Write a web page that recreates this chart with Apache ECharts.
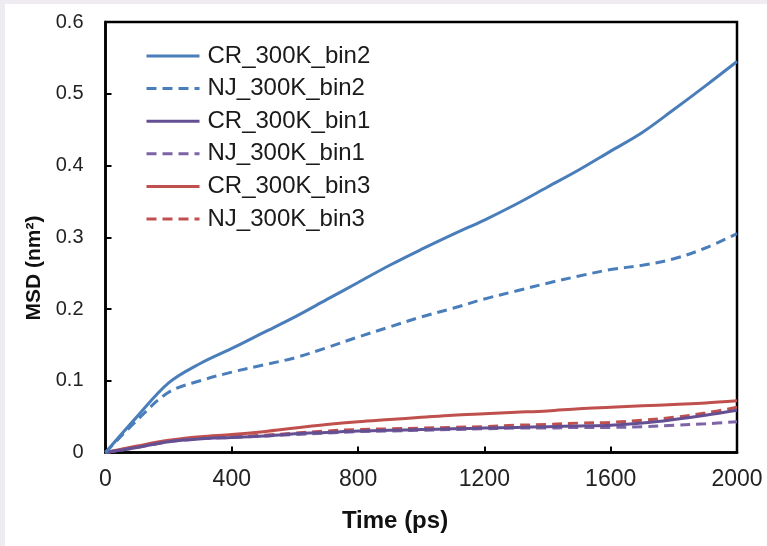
<!DOCTYPE html>
<html>
<head>
<meta charset="utf-8">
<script src="https://cdn.jsdelivr.net/npm/echarts@6/dist/echarts.min.js"></script>
<style>
  html, body { margin: 0; padding: 0; background: #ffffff; }
  #chart { width: 767px; height: 546px; }
</style>
</head>
<body>
<div id="chart"></div>
<script>
// Simulation time (ps)
const timePs = [0, 100, 200, 300, 400, 500, 600, 700, 800, 900, 1000,
                1100, 1200, 1300, 1400, 1500, 1600, 1700, 1800, 1900, 2000];

// Mean square displacement (nm^2) for each run
const crBin2 = [0, 0.050, 0.097, 0.124, 0.145, 0.167, 0.189, 0.213, 0.237, 0.261, 0.283,
                0.304, 0.324, 0.346, 0.370, 0.394, 0.420, 0.446, 0.478, 0.511, 0.545];
const njBin2 = [0, 0.045, 0.084, 0.100, 0.112, 0.122, 0.132, 0.146, 0.161, 0.175, 0.189,
                0.201, 0.214, 0.225, 0.236, 0.246, 0.255, 0.261, 0.270, 0.285, 0.305];
const crBin1 = [0, 0.007, 0.015, 0.019, 0.021, 0.023, 0.026, 0.028, 0.030, 0.031, 0.032,
                0.033, 0.034, 0.035, 0.036, 0.037, 0.038, 0.041, 0.046, 0.052, 0.059];
const njBin1 = [0, 0.007, 0.015, 0.019, 0.021, 0.023, 0.025, 0.027, 0.029, 0.030, 0.031,
                0.032, 0.033, 0.034, 0.034, 0.035, 0.035, 0.036, 0.038, 0.040, 0.043];
const crBin3 = [0, 0.009, 0.017, 0.022, 0.025, 0.029, 0.034, 0.039, 0.043, 0.046, 0.049,
                0.052, 0.054, 0.056, 0.058, 0.061, 0.063, 0.065, 0.067, 0.069, 0.072];
const njBin3 = [0, 0.008, 0.016, 0.020, 0.022, 0.024, 0.027, 0.030, 0.032, 0.033, 0.034,
                0.035, 0.036, 0.038, 0.039, 0.041, 0.042, 0.045, 0.049, 0.055, 0.063];

const seriesNames = ['CR_300K_bin2', 'NJ_300K_bin2', 'CR_300K_bin1',
                     'NJ_300K_bin1', 'CR_300K_bin3', 'NJ_300K_bin3'];
const seriesValues = [crBin2, njBin2, crBin1, njBin1, crBin3, njBin3];
const seriesColors = ['#4a7ebb', '#4a7ebb', '#654f93', '#7e64a6', '#c0504d', '#c0504d'];
const seriesDashed = [false, true, false, true, false, true];

const xTicks = [0, 400, 800, 1200, 1600, 2000];
const yTicks = [0, 0.1, 0.2, 0.3, 0.4, 0.5, 0.6];

const xTitle = 'Time (ps)';
const yTitle = 'MSD (nm²)';

const FONT = 'Liberation Sans, Arial, sans-serif';

const chart = echarts.init(document.getElementById('chart'));

const series = seriesNames.map((name, i) => ({
  name: name,
  type: 'line',
  data: timePs.map((t, k) => [t, seriesValues[i][k]]),
  smooth: 0.35,
  showSymbol: false,
  symbol: 'none',
  z: 10 - i,
  lineStyle: {
    color: seriesColors[i],
    width: 3,
    type: seriesDashed[i] ? [10, 6] : 'solid'
  },
  itemStyle: { color: seriesColors[i] }
}));

chart.setOption({
  backgroundColor: '#ffffff',
  animation: false,
  graphic: [
    { type: 'rect', left: 0, top: 0, shape: { width: 5, height: 546 }, style: { fill: '#eeebf1' }, z: -1 },
    { type: 'rect', left: 0, top: 0, shape: { width: 767, height: 4 }, style: { fill: '#eeebf1' }, z: -1 },
    // axis titles
    { type: 'text', x: 395, y: 521, z: 5,
      style: { text: xTitle, font: 'bold 24px ' + FONT, fill: '#111', align: 'center', verticalAlign: 'middle' } },
    { type: 'text', x: 34, y: 268, rotation: Math.PI / 2, z: 5,
      style: { text: yTitle, font: 'bold 21px ' + FONT, fill: '#111', align: 'center', verticalAlign: 'middle' } }
  ],
  grid: {
    left: 105.5, right: 30, top: 22, bottom: 93.5,
    show: true, borderColor: '#000', borderWidth: 2.5, backgroundColor: '#fff'
  },
  legend: {
    orient: 'vertical',
    left: 140, top: 39,
    itemWidth: 53, itemHeight: 14, itemGap: 8.6,
    data: seriesNames,
    itemStyle: { opacity: 0 },
    lineStyle: { width: 3 },
    textStyle: { fontFamily: FONT, fontSize: 24, lineHeight: 24, color: '#1a1a1a', padding: [0, 0, 0, 3] }
  },
  xAxis: {
    type: 'value',
    min: 0, max: 2000, interval: 400,
    axisLine: { show: true, lineStyle: { color: '#000', width: 2.5 } },
    axisTick: { show: true, inside: true, length: 6, lineStyle: { color: '#000', width: 2 } },
    axisLabel: { fontFamily: FONT, fontSize: 23, color: '#222', margin: 16,
                 formatter: v => xTicks.includes(v) ? String(v) : '' },
    splitLine: { show: false }
  },
  yAxis: {
    type: 'value',
    min: 0, max: 0.6, interval: 0.1,
    axisLine: { show: true, lineStyle: { color: '#000', width: 2.5 } },
    axisTick: { show: true, inside: true, length: 6, lineStyle: { color: '#000', width: 2 } },
    axisLabel: { fontFamily: FONT, fontSize: 20, color: '#222', margin: 22,
                 formatter: v => {
                   const r = Math.round(v * 10) / 10;
                   return yTicks.includes(r) ? String(r) : '';
                 } },
    splitLine: { show: false }
  },
  series: series
});
</script>
</body>
</html>
